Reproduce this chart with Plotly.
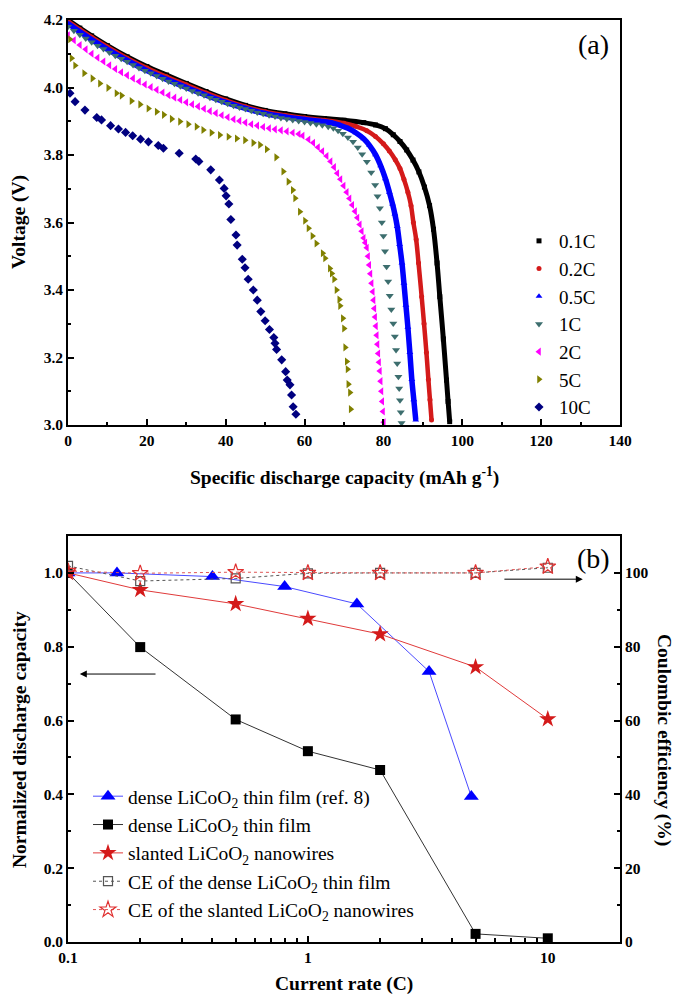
import math
import plotly.graph_objects as go

# ---------------- Panel (a) data: discharge curves ----------------
cap_01C = [0, 3, 6, 10, 15, 20, 25, 30, 35, 40, 45, 50, 55, 60, 65, 70, 75, 78, 80.5, 82.5, 84.2, 85.9,
           87.5, 89.0, 90.4, 91.7, 92.7, 93.6, 94.3, 95.2, 96.0, 96.4, 96.8]
v_01C = [4.200, 4.176, 4.153, 4.124, 4.091, 4.062, 4.037, 4.012, 3.988, 3.966, 3.947, 3.932, 3.922, 3.914,
         3.908, 3.903, 3.896, 3.889, 3.878, 3.860, 3.840, 3.815, 3.785, 3.750, 3.705, 3.650, 3.580, 3.480,
         3.380, 3.255, 3.133, 3.070, 3.010]

cap_02C = [0, 3, 6, 10, 15, 20, 25, 30, 35, 40, 45, 50, 55, 60, 65, 70, 73, 75.8, 78, 80, 81.5, 83, 84.2,
           85.2, 86.2, 87.0, 87.6, 88.3, 88.9, 89.7, 90.3, 90.9, 91.4, 91.8, 92.2]
v_02C = [4.196, 4.172, 4.149, 4.120, 4.087, 4.058, 4.032, 4.008, 3.984, 3.962, 3.943, 3.928, 3.918, 3.910,
         3.903, 3.894, 3.885, 3.872, 3.855, 3.833, 3.812, 3.786, 3.760, 3.728, 3.690, 3.650, 3.600, 3.550,
         3.480, 3.380, 3.300, 3.215, 3.135, 3.075, 3.015]

cap_05C = [0, 3, 6, 10, 15, 20, 25, 30, 35, 40, 45, 50, 55, 60, 64, 67, 69, 71, 73, 75, 76.5, 78, 79.3,
           80.5, 81.5, 82.3, 82.9, 83.5, 84.1, 84.7, 85.2, 85.7, 86.2, 86.7, 87.2, 87.7, 88.2]
v_05C = [4.190, 4.165, 4.142, 4.113, 4.080, 4.050, 4.024, 4.000, 3.977, 3.956, 3.938, 3.923, 3.913, 3.905,
         3.900, 3.895, 3.888, 3.879, 3.866, 3.848, 3.828, 3.801, 3.768, 3.730, 3.690, 3.655, 3.625, 3.588,
         3.535, 3.480, 3.420, 3.355, 3.290, 3.215, 3.135, 3.075, 3.015]

cap_1C = [0, 1.5, 3, 4.5, 6, 7.5, 9, 10.5, 12, 13.5, 15, 16.5, 18, 19.5, 21, 22.5, 24, 25.5, 27, 28.5, 30,
          31.5, 33, 34.5, 36, 37.5, 39, 40.5, 42, 43.5, 45, 46.5, 48, 49.5, 51, 52.5, 54, 55.5, 57, 58.5,
          60, 61.5, 63, 64.5, 66, 67.3, 68.5, 69.7, 71, 72.3, 73.5, 74.6, 75.8, 76.9, 77.9, 78.5, 79.1,
          79.6, 80.0, 80.4, 80.8, 81.2, 81.6, 82.0, 82.5, 82.9, 83.2, 83.5, 83.8, 84.0, 84.2, 84.4, 84.6]
v_1C = [4.180, 4.168, 4.156, 4.145, 4.134, 4.124, 4.114, 4.104, 4.094, 4.085, 4.076, 4.067, 4.058, 4.050,
        4.042, 4.034, 4.026, 4.018, 4.011, 4.004, 3.997, 3.990, 3.983, 3.977, 3.970, 3.964, 3.958, 3.952,
        3.946, 3.941, 3.936, 3.931, 3.926, 3.922, 3.918, 3.914, 3.910, 3.907, 3.904, 3.901, 3.898, 3.895,
        3.891, 3.888, 3.884, 3.879, 3.872, 3.863, 3.852, 3.839, 3.822, 3.802, 3.780, 3.748, 3.711, 3.678,
        3.642, 3.600, 3.560, 3.515, 3.469, 3.425, 3.383, 3.342, 3.301, 3.262, 3.222, 3.182, 3.143, 3.108,
        3.073, 3.038, 3.006]

cap_2C = [0, 1.5, 3, 4.5, 6, 7.5, 9, 10.5, 12, 13.5, 15, 16.5, 18, 19.5, 21, 22.5, 24, 25.5, 27, 28.5, 30,
          31.5, 33, 34.5, 36, 37.5, 39, 40.5, 42, 43.5, 45, 46.5, 48, 49.5, 51, 52.5, 54, 55.5, 57, 58.5,
          59.5, 61, 62.2, 63.4, 64.5, 65.6, 66.6, 67.5, 68.3, 69.1, 69.9, 70.7, 71.4, 72.1, 72.8, 73.4,
          74.0, 74.5, 75.0, 75.4, 75.8, 76.1, 76.4, 76.7, 77.0, 77.3, 77.5, 77.7, 77.9, 78.1, 78.3, 78.5,
          78.7, 78.9, 79.1, 79.3, 79.5, 79.7, 79.9, 80.1]
v_2C = [4.155, 4.140, 4.126, 4.113, 4.100, 4.088, 4.077, 4.066, 4.055, 4.045, 4.036, 4.027, 4.018, 4.009,
        4.001, 3.993, 3.985, 3.977, 3.970, 3.963, 3.956, 3.950, 3.944, 3.937, 3.930, 3.924, 3.918, 3.912,
        3.906, 3.901, 3.896, 3.891, 3.887, 3.883, 3.879, 3.876, 3.873, 3.870, 3.866, 3.862, 3.857, 3.846,
        3.836, 3.823, 3.811, 3.797, 3.781, 3.764, 3.746, 3.728, 3.709, 3.690, 3.671, 3.652, 3.633, 3.614,
        3.594, 3.574, 3.554, 3.540, 3.525, 3.500, 3.474, 3.448, 3.420, 3.395, 3.370, 3.345, 3.320, 3.293,
        3.266, 3.239, 3.212, 3.186, 3.160, 3.130, 3.100, 3.070, 3.040, 3.008]

cap_5C = [0.5, 0.9, 1.8, 4.1, 6.2, 8.1, 10.2, 12.3, 13.6, 16.1, 18.3, 20.4, 22.5, 24.3, 26.3, 28.4, 30.5,
          32.6, 34.3, 36.4, 38.5, 40.7, 42.8, 44.9, 47.0, 48.7, 50.4, 52.8, 54.6, 55.9, 57.0, 57.6, 58.8,
          60.1, 61.0, 62.0, 63.0, 64.6, 65.2, 66.4, 66.9, 67.5, 68.1, 68.8, 69.0, 69.7, 70.0, 70.3, 70.7,
          70.9, 71.1, 71.5, 71.7]
v_5C = [4.143, 4.087, 4.065, 4.042, 4.027, 4.012, 3.999, 3.983, 3.976, 3.960, 3.950, 3.938, 3.928, 3.919,
        3.907, 3.899, 3.891, 3.884, 3.874, 3.866, 3.859, 3.854, 3.849, 3.844, 3.836, 3.830, 3.817, 3.793,
        3.751, 3.721, 3.696, 3.672, 3.632, 3.605, 3.583, 3.560, 3.538, 3.509, 3.494, 3.464, 3.449, 3.432,
        3.400, 3.372, 3.353, 3.316, 3.286, 3.230, 3.188, 3.165, 3.121, 3.096, 3.047]

cap_10C = [0.5, 1.8, 4.3, 7.3, 8.5, 10.8, 12.8, 14.6, 16.4, 18.4, 20.4, 22.9, 24.2, 28.2, 32.4, 33.2, 36.2,
           38.4, 39.6, 40.1, 40.8, 41.3, 42.6, 42.9, 44.2, 44.9, 45.7, 47.0, 48.0, 48.9, 50.0, 51.1, 52.2,
           52.5, 52.9, 54.2, 55.2, 55.6, 56.3, 56.7, 57.1, 57.8]
v_10C = [3.983, 3.958, 3.933, 3.911, 3.904, 3.887, 3.877, 3.867, 3.857, 3.847, 3.839, 3.828, 3.820, 3.805,
         3.788, 3.781, 3.756, 3.726, 3.701, 3.679, 3.655, 3.609, 3.563, 3.533, 3.491, 3.466, 3.432, 3.400,
         3.370, 3.336, 3.309, 3.283, 3.259, 3.242, 3.224, 3.193, 3.158, 3.133, 3.119, 3.089, 3.054, 3.032]

# ---------------- Panel (b) data: rate capability ----------------
rate_ref8 = [0.1, 0.16, 0.4, 0.8, 1.6, 3.2, 4.8]
cap_ref8 = [1.0, 1.0, 0.99, 0.963, 0.916, 0.733, 0.394]

rates = [0.1, 0.2, 0.5, 1, 2, 5, 10]
cap_dense = [1.0, 0.799, 0.603, 0.517, 0.466, 0.022, 0.010]
cap_slanted = [1.0, 0.954, 0.916, 0.876, 0.834, 0.745, 0.604]
ce_dense = [101.9, 97.8, 98.5, 99.9, 100.0, 100.0, 101.4]
ce_slanted = [100.5, 99.9, 100.2, 100.0, 100.0, 100.0, 101.7]

SERIF = "Times New Roman, Liberation Serif, DejaVu Serif, serif"
# the page body adds an 8 px margin; the figure is sized so it fits the 681x998 window
OFF = 8
W, H = 681 - OFF, 998 - OFF


def px(xs):
    return (xs - OFF) / W


def py(ys):
    return (H - (ys - OFF)) / H


fig = go.Figure()

top_series = [
    ("0.1C", cap_01C, v_01C, "#000000", "square", 5, 5.0),
    ("0.2C", cap_02C, v_02C, "#d41a1a", "circle", 5, 4.5),
    ("0.5C", cap_05C, v_05C, "#0000ff", "triangle-up", 6, 5.5),
    ("1C", cap_1C, v_1C, "#3d6e6e", "triangle-down", 7, None),
    ("2C", cap_2C, v_2C, "#ff00ff", "triangle-left", 7, None),
    ("5C", cap_5C, v_5C, "#808000", "triangle-right", 7, None),
    ("10C", cap_10C, v_10C, "#000080", "diamond", 7, None),
]

for i, (name, xs, ys, col, sym, msz, lw) in enumerate(top_series):
    if lw:
        fig.add_trace(go.Scatter(x=xs, y=ys, mode="lines", line=dict(color=col, width=lw, shape="spline"),
                                 showlegend=False, hoverinfo="skip", xaxis="x", yaxis="y"))
    fig.add_trace(go.Scatter(x=xs, y=ys, mode="markers", name=name, legend="legend",
                             legendgroup="a%d" % i,
                             marker=dict(symbol=sym, size=msz, color=col, line=dict(width=0)),
                             xaxis="x", yaxis="y"))

# panel b traces
fig.add_trace(go.Scatter(x=rate_ref8, y=cap_ref8, mode="lines+markers",
                         name="dense LiCoO<sub>2</sub> thin film (ref. 8)", legend="legend2", legendgroup="b1",
                         line=dict(color="#4a4aff", width=1),
                         marker=dict(symbol="triangle-up", size=13, color="#0000ff"),
                         xaxis="x2", yaxis="y2"))
fig.add_trace(go.Scatter(x=rates, y=cap_dense, mode="lines+markers",
                         name="dense LiCoO<sub>2</sub> thin film", legend="legend2", legendgroup="b2",
                         line=dict(color="#333333", width=1),
                         marker=dict(symbol="square", size=10, color="#000000"),
                         xaxis="x2", yaxis="y2"))
fig.add_trace(go.Scatter(x=rates, y=cap_slanted, mode="lines+markers",
                         name="slanted LiCoO<sub>2</sub> nanowires", legend="legend2", legendgroup="b3",
                         line=dict(color="#e03a3a", width=1),
                         marker=dict(symbol="star", size=13, color="#d41a1a", line=dict(width=0)),
                         xaxis="x2", yaxis="y2"))
fig.add_trace(go.Scatter(x=rates, y=ce_dense, mode="lines+markers",
                         name="CE of the dense LiCoO<sub>2</sub> thin film", legend="legend2", legendgroup="b4",
                         line=dict(color="#555555", width=1, dash="dot"),
                         marker=dict(symbol="square-open", size=9, color="#555555", line=dict(width=1.2)),
                         xaxis="x2", yaxis="y3"))
fig.add_trace(go.Scatter(x=rates, y=ce_slanted, mode="lines+markers",
                         name="CE of the slanted LiCoO<sub>2</sub> nanowires", legend="legend2", legendgroup="b5",
                         line=dict(color="#e05555", width=1, dash="dot"),
                         marker=dict(symbol="star-open", size=12, color="#e03030", line=dict(width=1.2)),
                         xaxis="x2", yaxis="y3"))

tickfont = dict(family=SERIF, size=15.5, color="black", weight="bold")
xdom = [px(68), px(620)]
axis_common = dict(showline=True, linecolor="black", linewidth=1.8, ticks="inside", ticklen=6,
                   tickwidth=1.5, tickcolor="black", tickfont=tickfont, showgrid=False, zeroline=False,
                   automargin=False)

fig.update_layout(
    width=W, height=H,
    margin=dict(l=0, r=0, t=0, b=0),
    paper_bgcolor="white", plot_bgcolor="white",
    font=dict(family=SERIF, color="black"),
    xaxis=dict(domain=xdom, anchor="y", range=[0, 140], dtick=20, mirror=True,
               minor=dict(dtick=10, ticks="inside", ticklen=3, tickwidth=1.5, tickcolor="black"),
               **axis_common),
    yaxis=dict(domain=[py(425), py(20)], anchor="x", range=[3.0, 4.2], dtick=0.2,
               tickformat=".1f", mirror=True,
               minor=dict(dtick=0.1, ticks="inside", ticklen=3, tickwidth=1.5, tickcolor="black"),
               **axis_common),
    xaxis2=dict(domain=xdom, anchor="y2", type="log", range=[-1, math.log10(20)], mirror=True,
                tickvals=[0.1, 1, 10], ticktext=["0.1", "1", "10"],
                minor=dict(tickvals=[0.2, 0.3, 0.4, 0.5, 0.6, 0.7, 0.8, 0.9, 2, 3, 4, 5, 6, 7, 8, 9],
                           ticks="inside", ticklen=4, tickwidth=1.5, tickcolor="black"),
                **axis_common),
    yaxis2=dict(domain=[py(942), py(536)], anchor="x2", range=[0, 1.1],
                tickvals=[0, 0.2, 0.4, 0.6, 0.8, 1.0], tickformat=".1f",
                minor=dict(tickvals=[0.1, 0.3, 0.5, 0.7, 0.9], ticks="inside", ticklen=3, tickwidth=1.5,
                           tickcolor="black"),
                **axis_common),
    yaxis3=dict(overlaying="y2", side="right", anchor="x2", range=[0, 110],
                tickvals=[0, 20, 40, 60, 80, 100],
                minor=dict(tickvals=[10, 30, 50, 70, 90], ticks="inside", ticklen=3, tickwidth=1.5,
                           tickcolor="black"),
                **axis_common),
    legend=dict(x=px(519), y=py(222), xanchor="left", yanchor="top",
                font=dict(family=SERIF, size=19, color="black"), bgcolor="rgba(0,0,0,0)",
                tracegroupgap=0, itemwidth=30),
    legend2=dict(x=px(88), y=py(777), xanchor="left", yanchor="top",
                 font=dict(family=SERIF, size=19.5, color="black"), bgcolor="rgba(0,0,0,0)",
                 tracegroupgap=0, itemwidth=30),
    showlegend=True,
)

ann = []
title_font = dict(family=SERIF, size=19.5, color="black", weight="bold")


def label(text, xs, ys, font, angle=0):
    return dict(text=text, x=px(xs), y=py(ys), xref="paper", yref="paper", showarrow=False,
                xanchor="center", yanchor="middle", textangle=angle, font=font)


panel_font = dict(family=SERIF, size=28, color="black")
ann.append(label("(a)", 593, 44, panel_font))
ann.append(label("(b)", 593, 558, panel_font))
ann.append(label("Voltage (V)", 19, 222, title_font, -90))
ann.append(label("Specific discharge capacity (mAh g<sup>-1</sup>)", 344, 476, title_font))
ann.append(label("Normalized discharge capacity", 19, 740, title_font, -90))
ann.append(label("Coulombic efficiency (%)", 664, 740, title_font, 90))
ann.append(label("Current rate (C)", 344, 984, title_font))
# arrows pointing to the respective axes
ann.append(dict(text="", x=math.log10(0.112), y=0.726, xref="x2", yref="y2",
                ax=math.log10(0.235), ay=0.726, axref="x2", ayref="y2", showarrow=True,
                arrowhead=2, arrowsize=1.4, arrowwidth=1, arrowcolor="black"))
ann.append(dict(text="", x=math.log10(14), y=98.3, xref="x2", yref="y3",
                ax=math.log10(6.5), ay=98.3, axref="x2", ayref="y3", showarrow=True,
                arrowhead=2, arrowsize=1.4, arrowwidth=1, arrowcolor="black"))
fig.update_layout(annotations=ann)

fig.write_html("out.html")
